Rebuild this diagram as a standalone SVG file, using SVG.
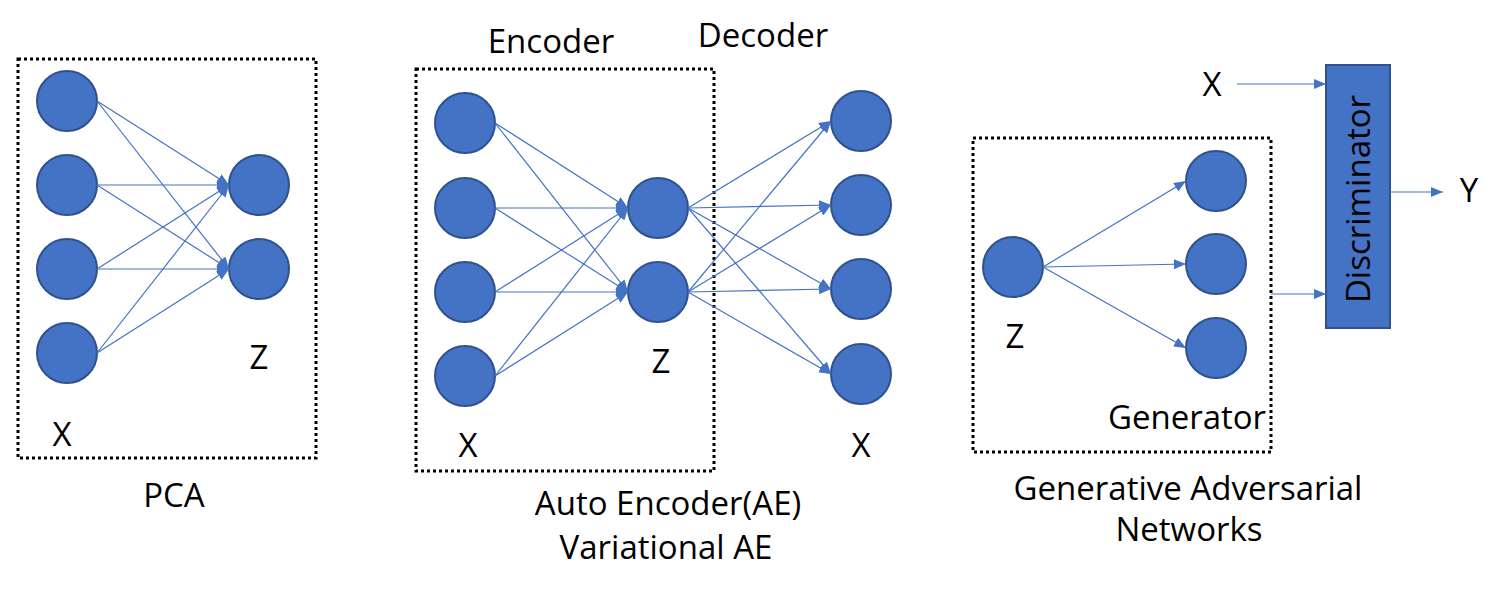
<svg xmlns="http://www.w3.org/2000/svg" width="1501" height="605" viewBox="0 0 1501 605">
<defs>
<style>
.n{fill:#4472C4;stroke:#2F528F;stroke-width:2}
.box{fill:none;stroke:#000;stroke-width:3;stroke-dasharray:3 3}
.e{stroke:#4472C4;stroke-width:1.2;fill:none;marker-end:url(#ah)}
.t{font-family:"Open Sans","Liberation Sans",sans-serif;font-size:33px;fill:#000;text-anchor:middle}
</style>
<marker id="ah" markerUnits="userSpaceOnUse" markerWidth="12" markerHeight="10" refX="12" refY="5" orient="auto">
<path d="M0,0 L12,5 L0,10 z" fill="#4472C4"/>
</marker>
</defs>
<rect width="1501" height="605" fill="#fff"/>

<g id="pca">
<rect class="box" x="18" y="59" width="298" height="399"/>
<circle class="n" cx="67" cy="101" r="30"/>
<circle class="n" cx="67" cy="185" r="30"/>
<circle class="n" cx="67" cy="269" r="30"/>
<circle class="n" cx="67" cy="353" r="30"/>
<circle class="n" cx="259" cy="185" r="30"/>
<circle class="n" cx="259" cy="269" r="30"/>
<text class="t" x="62" y="446">X</text>
<text class="t" x="259" y="369">Z</text>
<text class="t" x="174" y="507">PCA</text>
</g>

<g id="ae">
<rect class="box" x="416" y="69" width="298" height="402"/>
<circle class="n" cx="465" cy="123" r="30"/>
<circle class="n" cx="465" cy="208" r="30"/>
<circle class="n" cx="465" cy="292" r="30"/>
<circle class="n" cx="465" cy="376" r="30"/>
<circle class="n" cx="658" cy="208" r="30"/>
<circle class="n" cx="658" cy="292" r="30"/>
<circle class="n" cx="861" cy="121" r="30"/>
<circle class="n" cx="861" cy="205" r="30"/>
<circle class="n" cx="861" cy="289" r="30"/>
<circle class="n" cx="861" cy="374" r="30"/>
<text class="t" x="551" y="53">Encoder</text>
<text class="t" x="763" y="47">Decoder</text>
<text class="t" x="468" y="457">X</text>
<text class="t" x="661" y="373">Z</text>
<text class="t" x="861" y="457">X</text>
<text class="t" x="668" y="515">Auto Encoder(AE)</text>
<text class="t" x="666" y="559">Variational AE</text>
</g>

<g id="gan">
<rect class="box" x="973" y="138" width="298" height="314"/>
<circle class="n" cx="1013" cy="267" r="30"/>
<circle class="n" cx="1216" cy="181" r="30"/>
<circle class="n" cx="1216" cy="264" r="30"/>
<circle class="n" cx="1216" cy="348" r="30"/>
<text class="t" x="1015" y="348">Z</text>
<text class="t" x="1187" y="429">Generator</text>
<text class="t" x="1188" y="500">Generative Adversarial</text>
<text class="t" x="1189" y="541">Networks</text>
</g>

<g id="discriminator">
<rect x="1326" y="65" width="64" height="263" fill="#4472C4" stroke="#2F528F" stroke-width="2"/>
<text class="t" transform="translate(1370,199) rotate(-90)" x="0" y="0">Discriminator</text>
<text class="t" x="1212" y="96">X</text>
<text class="t" x="1469" y="202">Y</text>
</g>

<g id="connectors">
<line class="e" x1="97" y1="101" x2="229" y2="185"/>
<line class="e" x1="97" y1="101" x2="229" y2="269"/>
<line class="e" x1="97" y1="185" x2="229" y2="185"/>
<line class="e" x1="97" y1="185" x2="229" y2="269"/>
<line class="e" x1="97" y1="269" x2="229" y2="185"/>
<line class="e" x1="97" y1="269" x2="229" y2="269"/>
<line class="e" x1="97" y1="353" x2="229" y2="185"/>
<line class="e" x1="97" y1="353" x2="229" y2="269"/>

<line class="e" x1="495" y1="123" x2="628" y2="208"/>
<line class="e" x1="495" y1="123" x2="628" y2="292"/>
<line class="e" x1="495" y1="208" x2="628" y2="208"/>
<line class="e" x1="495" y1="208" x2="628" y2="292"/>
<line class="e" x1="495" y1="292" x2="628" y2="208"/>
<line class="e" x1="495" y1="292" x2="628" y2="292"/>
<line class="e" x1="495" y1="376" x2="628" y2="208"/>
<line class="e" x1="495" y1="376" x2="628" y2="292"/>

<line class="e" x1="688" y1="208" x2="831" y2="121"/>
<line class="e" x1="688" y1="208" x2="831" y2="205"/>
<line class="e" x1="688" y1="208" x2="831" y2="289"/>
<line class="e" x1="688" y1="208" x2="831" y2="374"/>
<line class="e" x1="688" y1="292" x2="831" y2="121"/>
<line class="e" x1="688" y1="292" x2="831" y2="205"/>
<line class="e" x1="688" y1="292" x2="831" y2="289"/>
<line class="e" x1="688" y1="292" x2="831" y2="374"/>

<line class="e" x1="1043" y1="267" x2="1186" y2="181"/>
<line class="e" x1="1043" y1="267" x2="1186" y2="264"/>
<line class="e" x1="1043" y1="267" x2="1186" y2="348"/>

<line class="e" x1="1237" y1="84" x2="1326" y2="84"/>
<line class="e" x1="1271" y1="294" x2="1326" y2="294"/>
<line class="e" x1="1390" y1="192" x2="1443" y2="192"/>
</g>
</svg>
